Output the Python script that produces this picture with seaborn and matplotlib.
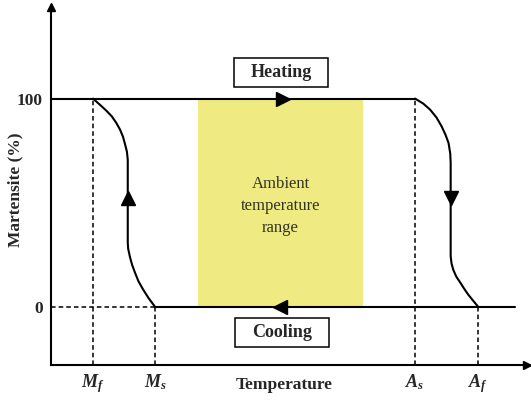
import matplotlib
matplotlib.use("Agg")
import matplotlib.pyplot as plt
from matplotlib.patches import Rectangle
import seaborn as sns
import pandas as pd

# Transformation temperatures (arbitrary temperature units)
M_f, M_s, A_s, A_f = 9.8, 24.25, 84.9, 99.6
ambient_range = (34.3, 72.8)
tick_labels = [r"$M_f$", r"$M_s$", r"$A_s$", r"$A_f$"]

# Cooling branch: martensite forms from M_s up to M_f
cool_temp = [24.25, 22.8, 21.5, 20.4, 19.6, 18.9, 18.4, 18.0, 17.9,
             17.9, 17.7, 17.3, 16.8, 16.1, 15.2, 14.2, 13.0, 11.8, 9.8]
cool_mart = [0, 4.0, 8.2, 12.2, 16.3, 20.2, 24.0, 27.8, 30.8,
             70.6, 74.5, 77.8, 81.6, 85.1, 88.4, 91.4, 94.0, 96.3, 100]

# Heating branch: martensite reverts from A_s to A_f
heat_temp = [84.9, 86.8, 88.4, 89.9, 91.1, 92.0, 92.7, 93.1, 93.2,
             93.2, 93.4, 93.8, 94.5, 95.5, 96.4, 97.3, 98.4, 99.6]
heat_mart = [100, 97.6, 94.7, 90.9, 86.6, 82.6, 78.7, 73.6, 69.1,
             24.2, 20.8, 17.8, 14.5, 11.4, 8.5, 5.8, 3.0, 0]

sns.set_theme(style="white")
plt.rcParams["font.family"] = ["Liberation Serif", "DejaVu Serif"]
plt.rcParams["mathtext.fontset"] = "custom"
plt.rcParams["mathtext.it"] = "Liberation Serif:italic:bold"
plt.rcParams["mathtext.rm"] = "Liberation Serif:bold"

fig = plt.figure(figsize=(5.31, 4.01), dpi=100)
ax = fig.add_axes([51 / 531, 36 / 401, 476 / 531, 358 / 401])
ax.set_xlim(0, 111)
ax.set_ylim(-28, 144)

lw = 1.5
dash = dict(color="black", lw=1.1, ls=(0, (3, 2)))

# Ambient temperature band
ax.axvspan(*ambient_range, ymin=(0 + 28) / 172, ymax=(100 + 28) / 172,
           color="#EFEB82", lw=0, zorder=0)
ax.text(sum(ambient_range) / 2, 48.5, "Ambient\ntemperature\nrange",
        ha="center", va="center", fontsize=12, linespacing=1.5, color="#333322")

# Plateaus at 100 % and 0 % martensite
ax.plot([0, A_s], [100, 100], color="black", lw=lw)
ax.plot([M_s, 108.2], [0, 0], color="black", lw=lw)
ax.plot([0, M_s], [0, 0], **dash)

# Guides down to the temperature axis
for t, top in [(M_f, 100), (M_s, 0), (A_s, 100), (A_f, 0)]:
    ax.plot([t, t], [-28, top], **dash)

# Transformation curves
df_cool = pd.DataFrame({"Temperature": cool_temp, "Martensite": cool_mart})
df_heat = pd.DataFrame({"Temperature": heat_temp, "Martensite": heat_mart})
for df in (df_cool, df_heat):
    sns.lineplot(data=df, x="Temperature", y="Martensite", sort=False,
                 estimator=None, color="black", lw=lw, ax=ax)

# Direction arrows
ax.plot(17.9, 52, marker="^", ms=10, color="black")
ax.plot(93.2, 52, marker="v", ms=10, color="black")
ax.plot(54, 100, marker=">", ms=10, color="black")
ax.plot(53.5, 0, marker="<", ms=10, color="black")

# Labelled boxes
for cx, cy, label in [(53.6, 112.7, "Heating"), (53.8, -12.3, "Cooling")]:
    w, h = 22.0, 13.8
    ax.add_patch(Rectangle((cx - w / 2, cy - h / 2), w, h, fill=False,
                           ec="black", lw=1.1))
    ax.text(cx, cy, label, ha="center", va="center", fontsize=13,
            fontweight="bold")

# Axes with arrowheads
sns.despine(ax=ax)
for side in ["left", "bottom"]:
    ax.spines[side].set_linewidth(lw)
    ax.spines[side].set_color("black")
ax.plot(0, 1, marker="^", ms=6, color="black", transform=ax.transAxes,
        clip_on=False)
ax.plot(1, 0, marker=">", ms=6, color="black", transform=ax.transAxes,
        clip_on=False)

ax.set_xticks([M_f, M_s, A_s, A_f])
ax.set_xticklabels(tick_labels, fontsize=13)
ax.set_yticks([0, 100])
ax.set_yticklabels(["0", "100"], fontsize=12.5, fontweight="bold")
ax.tick_params(axis="both", length=0)
ax.tick_params(axis="x", pad=5)
ax.tick_params(axis="y", pad=6)

ax.set_xlabel("Temperature", fontsize=12.5, fontweight="bold")
ax.set_ylabel("Martensite (%)", fontsize=12.5, fontweight="bold")
ax.yaxis.set_label_coords(-0.058, 0.49)
ax.xaxis.set_label_coords(0.49, -0.033)

fig.savefig("out.png", dpi=100)
